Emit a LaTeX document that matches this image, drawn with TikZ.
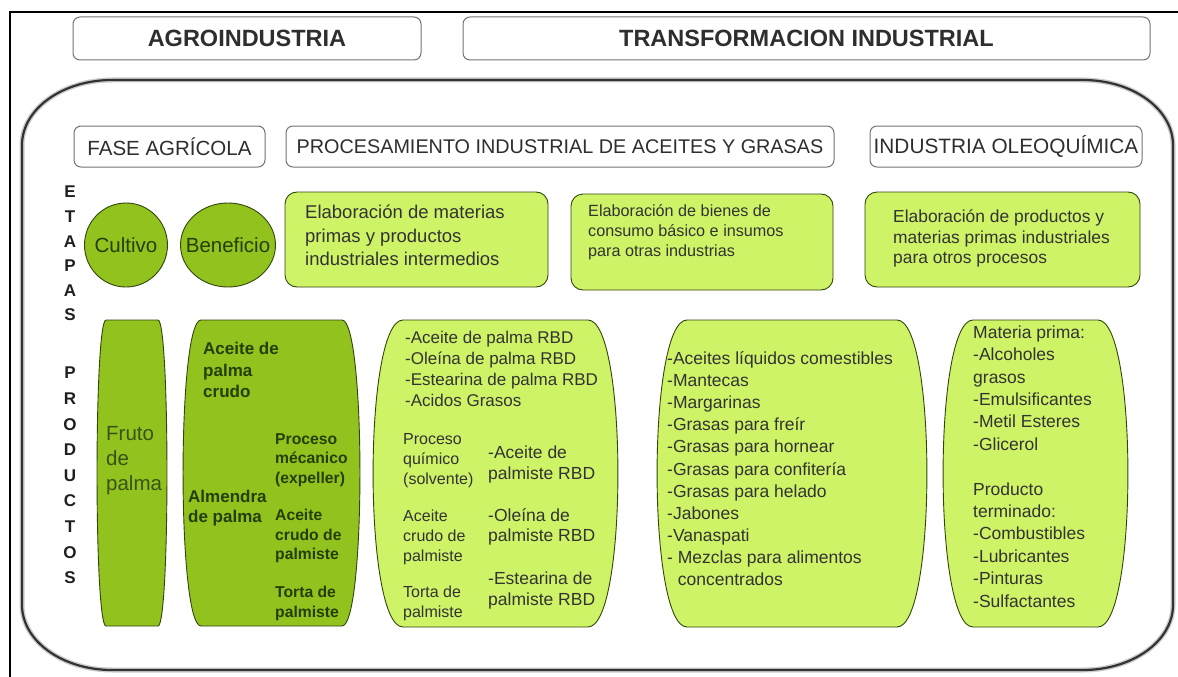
\documentclass[tikz,border=0pt]{standalone}
\usepackage{fontspec}
\setmainfont{Liberation Sans}
\usetikzlibrary{shapes.geometric}
\definecolor{verdeosc}{RGB}{146,194,30}
\definecolor{verdecla}{RGB}{206,243,102}
\definecolor{bordeverde}{RGB}{50,70,12}
\definecolor{textoverde}{RGB}{38,62,4}
\definecolor{textofruto}{RGB}{58,82,22}
\newcommand{\tamano}[2]{\fontsize{#1pt}{#2pt}\selectfont}
% barril: x1, y1, x2, y2, entrante, relleno
\newcommand{\barril}[6]{%
  \draw[borde,fill=#6] ({#1+#5},#2) -- ({#3-#5},#2)
    .. controls ({#3+0.33*#5},#2) and ({#3+0.33*#5},#4) .. ({#3-#5},#4)
    -- ({#1+#5},#4)
    .. controls ({#1-0.33*#5},#4) and ({#1-0.33*#5},#2) .. ({#1+#5},#2) -- cycle;}

\begin{document}
\begin{tikzpicture}[x=1pt,y=-1pt]
  \tikzset{titulo/.style = {draw=black!55, rounded corners=7pt, line width=1pt,
                            fill=white, text=black!82, inner sep=0pt}}
  \tikzset{caja/.style = {draw=bordeverde, fill=verdecla, rounded corners=12pt,
                          line width=0.9pt, inner sep=0pt}}
  \tikzset{etapa/.style = {ellipse, draw=bordeverde, fill=verdeosc,
                           line width=0.9pt, inner sep=0pt}}
  \tikzset{borde/.style = {draw=bordeverde, line width=0.9pt}}
  \tikzset{texto/.style = {anchor=north west, align=left, inner sep=0pt, text=black!80}}
  \tikzset{letra/.style = {font=\bfseries\tamano{17}{20}, inner sep=0pt, text=black!88}}
  \useasboundingbox (0,0) rectangle (1178,677);

  % marcos
  \draw[line width=1.3pt] (10,677) -- (10,12) -- (1178,12);
  \draw[line width=5pt, gray!40] (22,145) .. controls (22,109.1) and (62.3,80) .. (112,80)
    -- (1083,80) .. controls (1132.7,80) and (1173,109.1) .. (1173,145)
    -- (1173,605) .. controls (1173,640.9) and (1132.7,670) .. (1083,670)
    -- (112,670) .. controls (62.3,670) and (22,640.9) .. (22,605) -- cycle;
  \draw[line width=2.2pt, black!80] (22,145) .. controls (22,109.1) and (62.3,80) .. (112,80)
    -- (1083,80) .. controls (1132.7,80) and (1173,109.1) .. (1173,145)
    -- (1173,605) .. controls (1173,640.9) and (1132.7,670) .. (1083,670)
    -- (112,670) .. controls (62.3,670) and (22,640.9) .. (22,605) -- cycle;

  \node[titulo, minimum width=348pt, minimum height=43pt,
        font=\bfseries\tamano{23.5}{26}] (agro) at (247,38.5) {AGROINDUSTRIA};
  \node[titulo, minimum width=687pt, minimum height=43pt,
        font=\bfseries\tamano{23.5}{26}] (trans) at (806.5,38.5) {TRANSFORMACION INDUSTRIAL};

  \node[titulo, minimum width=191pt, minimum height=41pt,
        font=\tamano{20.5}{24}] (fase) at (169.5,146.5) {FASE AGRÍCOLA};
  \node[titulo, minimum width=548pt, minimum height=41pt,
        font=\tamano{19.8}{24}] (proc) at (560,146.5) {PROCESAMIENTO INDUSTRIAL DE ACEITES Y GRASAS};
  \node[titulo, minimum width=272pt, minimum height=41pt,
        font=\tamano{20.8}{24}] (oleo) at (1006,146.5) {INDUSTRIA OLEOQUÍMICA};

  \foreach \l [count=\i] in {E,T,A,P,A,S}
    \node[letra] (et\i) at (70,{192+(\i-1)*24.6}) {\l};
  \foreach \l [count=\i] in {P,R,O,D,U,C,T,O,S}
    \node[letra] (pr\i) at (70,{373+(\i-1)*25.6}) {\l};

  % etapas
  \node[etapa, minimum width=83pt, minimum height=84pt] (cultivo) at (126,245) {};
  \node[font=\tamano{20.5}{24}, text=textoverde, inner sep=0pt] (cultivotx) at (cultivo) {Cultivo};
  \node[etapa, minimum width=95pt, minimum height=84pt] (benef) at (228,245) {};
  \node[font=\tamano{20.5}{24}, text=textoverde, inner sep=0pt] (beneftx) at (benef) {Beneficio};

  \node[caja, minimum width=263pt, minimum height=95pt] (caja1) at (416.5,239.5) {};
  \node[caja, minimum width=262pt, minimum height=96pt] (caja2) at (702,242) {};
  \node[caja, minimum width=275pt, minimum height=95pt] (caja3) at (1002.5,239.5) {};
  \node[texto, font=\tamano{18.5}{23.5}] (elab1) at (305,205)
    {Elaboración de materias\\primas y productos\\industriales intermedios};
  \node[texto, font=\tamano{16.2}{20}] (elab2) at (588,204)
    {Elaboración de bienes de\\consumo básico e insumos\\para otras industrias};
  \node[texto, font=\tamano{17.4}{20.7}] (elab3) at (893,209.5)
    {Elaboración de productos y\\materias primas industriales\\para otros procesos};

  % productos
  \barril{97}{320}{167}{626}{9}{verdeosc}
  \barril{183}{320}{360}{626}{18}{verdeosc}
  \barril{373}{320}{618}{627}{30}{verdecla}
  \barril{657}{320}{927}{627}{30}{verdecla}
  \barril{943}{320}{1128}{627}{30}{verdecla}

  \node[texto, font=\tamano{20.5}{25}, text=textofruto] (fruto) at (106,426) {Fruto\\de\\palma};

  \node[texto, font=\bfseries\tamano{17}{21.5}, text=textoverde] (apc) at (203,342) {Aceite de\\palma\\crudo};
  \node[texto, font=\bfseries\tamano{17}{20}, text=textoverde] (almendra) at (188,490) {Almendra\\de palma};
  \node[texto, font=\bfseries\tamano{15.7}{19.5}, text=textoverde] (expeller) at (275,433) {Proceso\\mécanico\\(expeller)};
  \node[texto, font=\bfseries\tamano{15.7}{19.5}, text=textoverde] (acp) at (275,509) {Aceite\\crudo de\\palmiste};
  \node[texto, font=\bfseries\tamano{15.7}{19.5}, text=textoverde] (torta1) at (275,586) {Torta de\\palmiste};

  \node[texto, font=\tamano{17}{21}] (lista1) at (405,331)
    {-Aceite de palma RBD\\-Oleína de palma RBD\\-Estearina de palma RBD\\-Acidos Grasos};
  \node[texto, font=\tamano{16}{20}] (quim) at (403,433) {Proceso\\químico\\(solvente)};
  \node[texto, font=\tamano{16}{20}] (crudo) at (403,510) {Aceite\\crudo de\\palmiste};
  \node[texto, font=\tamano{16}{20}] (torta2) at (403,586) {Torta de\\palmiste};
  \node[texto, font=\tamano{17.5}{20.5}] (rbd1) at (488,446) {-Aceite de\\palmiste RBD};
  \node[texto, font=\tamano{17.5}{20.5}] (rbd2) at (488,508) {-Oleína de\\palmiste RBD};
  \node[texto, font=\tamano{17.5}{20.5}] (rbd3) at (488,572) {-Estearina de\\palmiste RBD};

  \node[texto, font=\tamano{17.5}{22.1}] (lista2) at (667,351.5)
    {-Aceites líquidos comestibles\\-Mantecas\\-Margarinas\\-Grasas para freír\\
     -Grasas para hornear\\-Grasas para confitería\\-Grasas para helado\\-Jabones\\
     -Vanaspati\\- Mezclas para alimentos\\\phantom{- }concentrados};

  \node[texto, font=\tamano{17.5}{22.4}] (lista3) at (973,325.5)
    {Materia prima:\\-Alcoholes\\grasos\\-Emulsificantes\\-Metil Esteres\\-Glicerol\\[22.4pt]
     Producto\\terminado:\\-Combustibles\\-Lubricantes\\-Pinturas\\-Sulfactantes};
\end{tikzpicture}
\end{document}
